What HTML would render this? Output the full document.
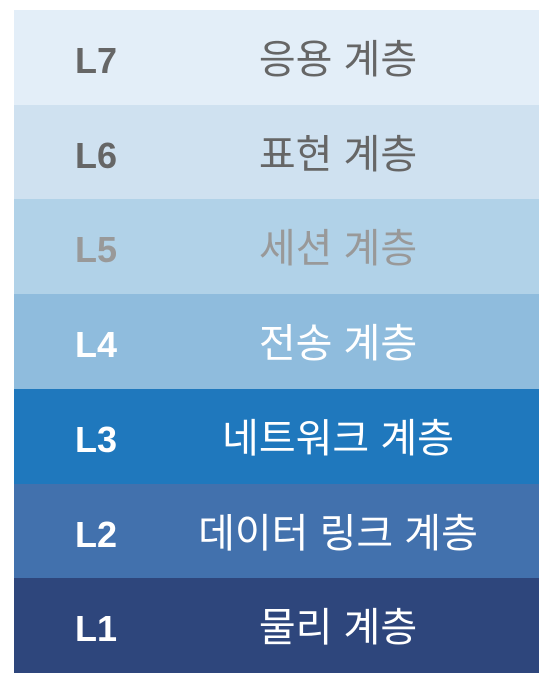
<!DOCTYPE html>
<html><head><meta charset="utf-8"><style>
body{margin:0;width:559px;height:689px;background:#fff;position:relative;overflow:hidden}
.row{position:absolute;left:14px;width:525px;height:95px;font-family:"Liberation Sans","Noto Sans CJK KR",sans-serif}
.l{position:absolute;left:50px;width:64px;text-align:center;top:0;line-height:101px;font-weight:bold;font-size:36px}
.t{position:absolute;left:124px;width:400px;text-align:center;top:0;line-height:100px;font-size:40px}
</style></head><body>
<div id="c"></div>
<script>
const labels=["L7","L6","L5","L4","L3","L2","L1"];
const names=["응용 계층","표현 계층","세션 계층","전송 계층","네트워크 계층","데이터 링크 계층","물리 계층"];
const fills=["#e3eef8","#cfe1f0","#b1d2e8","#8fbcdd","#1f78bd","#4271ad","#2e467c"];
const inks=["#666","#666","#999","#fff","#fff","#fff","#fff"];
const c=document.getElementById('c');
labels.forEach((l,i)=>{
 const r=document.createElement('div');r.className='row';
 
 
 r.style.top=(10+i*94.7)+'px';r.style.background=fills[i];r.style.color=inks[i];
 const a=document.createElement('div');a.className='l';a.textContent=l;
 
 
 const b=document.createElement('div');b.className='t';b.textContent=names[i];
 
 
 r.appendChild(a);r.appendChild(b);c.appendChild(r);
});
</script>
</body></html>
